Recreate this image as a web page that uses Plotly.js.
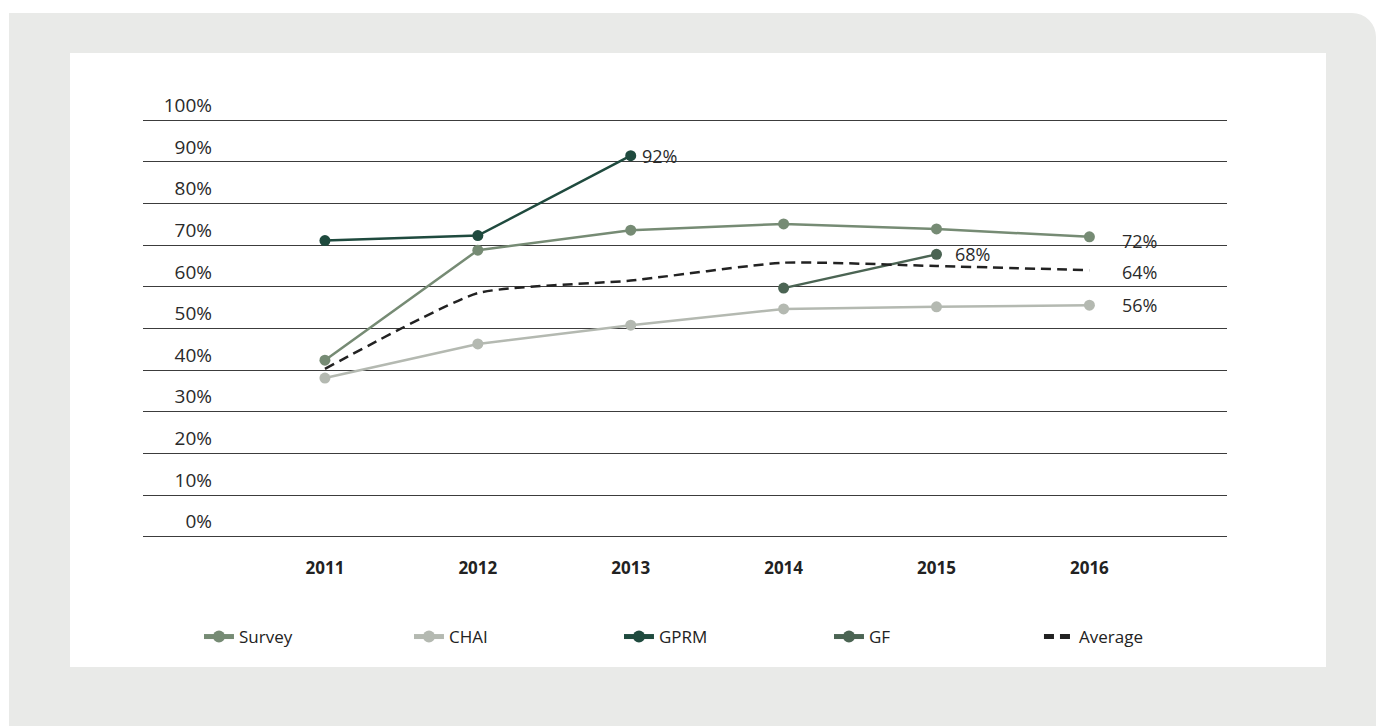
<!DOCTYPE html>
<html>
<head>
<meta charset="utf-8">
<script src="https://cdn.plot.ly/plotly-3.0.1.min.js"></script>
<style>
  html, body { margin: 0; padding: 0; width: 1376px; height: 726px; background: #ffffff; overflow: hidden; }
  #frame { position: absolute; left: 9px; top: 13px; width: 1367px; height: 713px; background: #e9eae8; border-top-right-radius: 24px; }
  #panel { position: absolute; left: 70px; top: 53px; width: 1256px; height: 614px; background: #ffffff; }
  #chart { position: absolute; left: 0; top: 0; width: 1376px; height: 726px; }
</style>
</head>
<body>
<div id="frame"></div>
<div id="panel"></div>
<div id="chart"></div>
<script>
// ---- data ----
const years = ['2011', '2012', '2013', '2014', '2015', '2016'];
const survey  = [42.4, 68.8, 73.6, 75.1, 73.9, 72.0];
const chai    = [38.1, 46.3, 50.8, 54.7, 55.2, 55.6];
const gprm    = [71.1, 72.3, 91.5, null, null, null];
const gf      = [null, null, null, 59.7, 67.8, null];
const average = [40.3, 58.5, 61.5, 65.8, 65.0, 64.0];
// value labels: series, index of labelled point, text
const labelSpecs = [
  { values: gprm,    idx: 2, text: '92%', dx: 9,  dy: 0 },
  { values: gf,      idx: 4, text: '68%', dx: 16, dy: 0 },
  { values: survey,  idx: 5, text: '72%', dx: 31, dy: -4 },
  { values: average, idx: 5, text: '64%', dx: 31, dy: -2 },
  { values: chai,    idx: 5, text: '56%', dx: 31, dy: 0 }
];
const yTickVals = [0, 10, 20, 30, 40, 50, 60, 70, 80, 90, 100];
const yTickText = ['0%', '10%', '20%', '30%', '40%', '50%', '60%', '70%', '80%', '90%', '100%'];

const FONT = '"Open Sans", "Noto Sans", sans-serif';
const labelFont = { family: FONT, size: 18, color: '#2a2a2a' };

function series(name, y, color) {
  return {
    type: 'scatter',
    mode: 'lines+markers',
    name: name,
    x: years,
    y: y,
    line: { color: color, width: 2.5 },
    marker: { color: color, size: 11 },
    connectgaps: false,
    hoverinfo: 'skip'
  };
}

const traces = [
  series('Survey', survey, '#768b74'),
  series('CHAI', chai, '#b4b9b1'),
  series('GPRM', gprm, '#1f4a3e'),
  series('GF', gf, '#4b6453'),
  {
    type: 'scatter',
    mode: 'lines',
    name: 'Average',
    x: years,
    y: average,
    line: { color: '#222222', width: 2.5, dash: '10px,6px', shape: 'spline', smoothing: 0.5 },
    hoverinfo: 'skip'
  }
];

const annotations = labelSpecs.map(s => ({
  x: s.idx,
  y: s.values[s.idx],
  xref: 'x',
  yref: 'y',
  text: s.text,
  showarrow: false,
  xanchor: 'left',
  yanchor: 'middle',
  xshift: s.dx,
  yshift: s.dy,
  font: labelFont
}));

const layout = {
  width: 1376,
  height: 726,
  paper_bgcolor: 'rgba(0,0,0,0)',
  plot_bgcolor: 'rgba(0,0,0,0)',
  margin: { l: 143, r: 149, t: 119, b: 188, pad: 0 },
  showlegend: true,
  font: { family: FONT, color: '#2a2a2a' },
  annotations: annotations,
  xaxis: {
    type: 'category',
    range: [-1.19, 5.9],
    showgrid: false,
    zeroline: false,
    showline: false,
    ticks: '',
    tickfont: { family: FONT, size: 17, color: '#222222', weight: 'bold' },
    ticklabelstandoff: 18,
    fixedrange: true
  },
  yaxis: {
    range: [-0.3, 100.3],
    tickvals: yTickVals,
    ticktext: yTickText,
    showgrid: true,
    gridcolor: '#3c3c3c',
    gridwidth: 1,
    zeroline: false,
    showline: false,
    ticks: '',
    tickfont: { family: FONT, size: 19, color: '#2a2a2a' },
    ticklabelposition: 'outside',
    ticklabelstandoff: -70,
    ticklabelshift: -15,
    fixedrange: true
  },
  legend: {
    orientation: 'h',
    xref: 'container',
    yref: 'container',
    x: 0.1446,
    xanchor: 'left',
    y: 0.1226,
    yanchor: 'middle',
    entrywidth: 165,
    entrywidthmode: 'pixels',
    font: { family: FONT, size: 17, color: '#222222' },
    itemsizing: 'constant',
    bgcolor: 'rgba(0,0,0,0)',
    traceorder: 'normal'
  }
};

Plotly.newPlot('chart', traces, layout, { displayModeBar: false, staticPlot: true });
</script>
</body>
</html>
